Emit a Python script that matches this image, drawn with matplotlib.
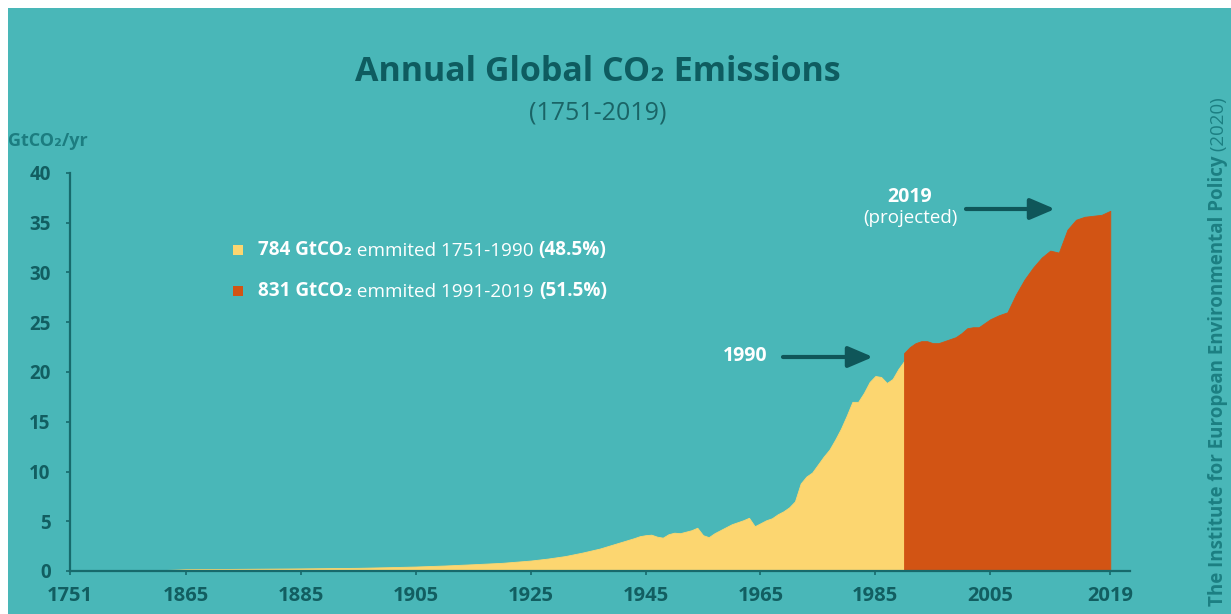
import numpy as np
import matplotlib
matplotlib.use("Agg")
import matplotlib.pyplot as plt
from matplotlib.patches import Rectangle

# ---------------- data ----------------
hist_years = [1751, 1770, 1790, 1810, 1830, 1850, 1865, 1875, 1885, 1895, 1900, 1905,
              1910, 1915, 1920, 1925, 1928, 1931, 1934, 1937, 1939, 1941, 1943, 1944,
              1945, 1946, 1947, 1948, 1949, 1950, 1951, 1952, 1953, 1954, 1955, 1956,
              1957, 1958, 1959, 1960, 1961, 1962, 1963, 1964, 1965, 1966, 1967, 1968,
              1969, 1970, 1971, 1972, 1973, 1974, 1975, 1976, 1977, 1978, 1979, 1980,
              1981, 1982, 1983, 1984, 1985, 1986, 1987, 1988, 1989, 1990]
hist_values = [0.01, 0.02, 0.03, 0.04, 0.07, 0.12, 0.18, 0.22, 0.26, 0.32, 0.38, 0.45,
               0.55, 0.68, 0.82, 1.05, 1.25, 1.5, 1.85, 2.25, 2.6, 2.95, 3.3, 3.5,
               3.6, 3.65, 3.45, 3.35, 3.7, 3.85, 3.8, 3.95, 4.1, 4.35, 3.6, 3.4,
               3.8, 4.1, 4.4, 4.7, 4.9, 5.1, 5.35, 4.5, 4.8, 5.1, 5.3, 5.7,
               6.0, 6.4, 7.0, 8.8, 9.5, 9.9, 10.7, 11.5, 12.2, 13.2, 14.3, 15.6,
               17.0, 17.0, 17.9, 19.0, 19.6, 19.5, 18.9, 19.3, 20.3, 21.1]

recent_years = list(range(1990, 2020))
recent_values = [21.9, 22.5, 22.9, 23.1, 23.1, 22.9, 22.9, 23.1, 23.3, 23.5,
                 23.9, 24.4, 24.5, 24.5, 24.9, 25.3, 25.7, 26.0, 27.8, 29.3,
                 30.5, 31.5, 32.2, 32.0, 34.3, 35.3, 35.6, 35.7, 35.8, 36.2]

tick_years = [1751, 1865, 1885, 1905, 1925, 1945, 1965, 1985, 2005, 2019]
tick_labels = [str(y) for y in tick_years]
y_ticks = [0, 5, 10, 15, 20, 25, 30, 35, 40]

# ---------------- style ----------------
BG = "#49B7B8"
YELLOW = "#FCD670"
ORANGE = "#D25414"
DARK = "#125E61"
AXIS = "#176A6C"
SIDE = "#1C7F82"
FONT = ["Open Sans", "DejaVu Sans"]
plt.rcParams["font.family"] = FONT

W, H = 1231, 614
fig = plt.figure(figsize=(W / 100, H / 100), dpi=100)
fig.patch.set_facecolor("white")
fig.add_artist(Rectangle((8 / W, 0), 1, 1 - 8 / H, transform=fig.transFigure,
                         facecolor=BG, edgecolor="none", zorder=-10))

ax = fig.add_axes([70 / W, 1 - 571 / H, 1060 / W, 398 / H])
ax.set_facecolor("none")

# piecewise axis (the original uses a non-uniform year axis)
_ay = np.array([1000.0, 1751, 1865, 2005, 2019, 3000])
_ap = np.array([-764.2, 0, 116, 920, 1040, 9448.6])
def _fwd(x):
    return np.interp(x, _ay, _ap)
def _inv(p):
    return np.interp(p, _ap, _ay)
ax.set_xscale("function", functions=(_fwd, _inv))

ax.fill_between(hist_years, 0, hist_values, color=YELLOW, lw=0.6, ec=YELLOW, zorder=2)
ax.fill_between(recent_years, 0, recent_values, color=ORANGE, lw=0.6, ec=ORANGE, zorder=3)

ax.set_xlim(1751, 2021.3)
ax.set_ylim(0, 40)
ax.set_xticks(tick_years)
ax.set_xticklabels(tick_labels)
ax.set_yticks(y_ticks)
ax.xaxis.set_minor_locator(plt.NullLocator())

for s in ["top", "right"]:
    ax.spines[s].set_visible(False)
for s in ["left", "bottom"]:
    ax.spines[s].set_color(AXIS)
    ax.spines[s].set_linewidth(1.6)
    ax.spines[s].set_zorder(5)

ax.tick_params(axis="x", length=3, width=1.2, color=AXIS, pad=8,
               labelsize=14.5, labelcolor=DARK)
ax.tick_params(axis="y", length=3, width=1.2, color=AXIS, pad=11,
               labelsize=13.5, labelcolor=DARK)
for lab in ax.get_xticklabels() + ax.get_yticklabels():
    lab.set_fontweight("bold")

# ---------------- titles ----------------
fig.text(598 / W, 1 - 72 / H, "Annual Global CO₂ Emissions", ha="center", va="center",
         fontsize=24.5, fontweight="bold", color="#0E5C60")
fig.text(598 / W, 1 - 113 / H, "(1751-2019)", ha="center", va="center",
         fontsize=18, color="#1A6466")
fig.text(8 / W, 1 - 141 / H, "GtCO₂/yr", ha="left", va="center",
         fontsize=13, fontweight="bold", color="#1C7D80")

# ---------------- legend (mixed weight text) ----------------
def fx(px):
    return (px - 70) / 1060
def fy(py):
    return (571 - py) / 398

def chain(parts, x, y, size):
    prev = None
    for txt, wt in parts:
        if prev is None:
            prev = ax.text(x, y, txt, transform=ax.transAxes, ha="left", va="center",
                           fontsize=size, fontweight=wt, color="white")
        else:
            prev = ax.annotate(txt, xy=(1, 0), xycoords=prev, ha="left", va="bottom",
                               fontsize=size, fontweight=wt, color="white")

ax.add_patch(Rectangle((fx(233), fy(255)), 10 / 1060, 10 / 398, transform=ax.transAxes,
                       facecolor=YELLOW, edgecolor="none"))
ax.add_patch(Rectangle((fx(233), fy(296)), 10 / 1060, 10 / 398, transform=ax.transAxes,
                       facecolor=ORANGE, edgecolor="none"))
chain([("784 GtCO₂", "bold"), (" emmited 1751-1990 ", "normal"), ("(48.5%)", "bold")],
      fx(258), fy(250), 13.6)
chain([("831 GtCO₂", "bold"), (" emmited 1991-2019 ", "normal"), ("(51.5%)", "bold")],
      fx(258), fy(291), 13.6)

# ---------------- annotations ----------------
ARROW = "#0F5659"
ASTYLE = "-|>,head_length=0.75,head_width=0.32"
ax.text(fx(745), fy(356), "1990", transform=ax.transAxes, ha="center", va="center",
        fontsize=14, fontweight="bold", color="white")
ax.annotate("", xy=(fx(873), fy(357)), xytext=(fx(783), fy(357)),
            xycoords="axes fraction", textcoords="axes fraction",
            arrowprops=dict(arrowstyle=ASTYLE, lw=3, color=ARROW, mutation_scale=20,
                            shrinkA=0, shrinkB=0))
ax.text(fx(910), fy(197), "2019", transform=ax.transAxes, ha="center", va="center",
        fontsize=14, fontweight="bold", color="white")
ax.text(fx(910), fy(218), "(projected)", transform=ax.transAxes, ha="center", va="center",
        fontsize=13.5, color="white")
ax.annotate("", xy=(fx(1055), fy(209)), xytext=(fx(966), fy(209)),
            xycoords="axes fraction", textcoords="axes fraction",
            arrowprops=dict(arrowstyle=ASTYLE, lw=3, color=ARROW, mutation_scale=20,
                            shrinkA=0, shrinkB=0))

# ---------------- side credit ----------------
t = fig.text(1218 / W, 1 - 606 / H, "The Institute for European Environmental Policy",
             rotation=90, ha="center", va="bottom", fontsize=13.5, fontweight="bold",
             color=SIDE)
fig.add_artist(plt.Annotation(" (2020)", xy=(1, 1), xycoords=t, ha="right", va="bottom",
                              rotation=90, fontsize=13.5, color=SIDE,
                              annotation_clip=False))

fig.savefig("out.png", dpi=100, facecolor=fig.get_facecolor())
